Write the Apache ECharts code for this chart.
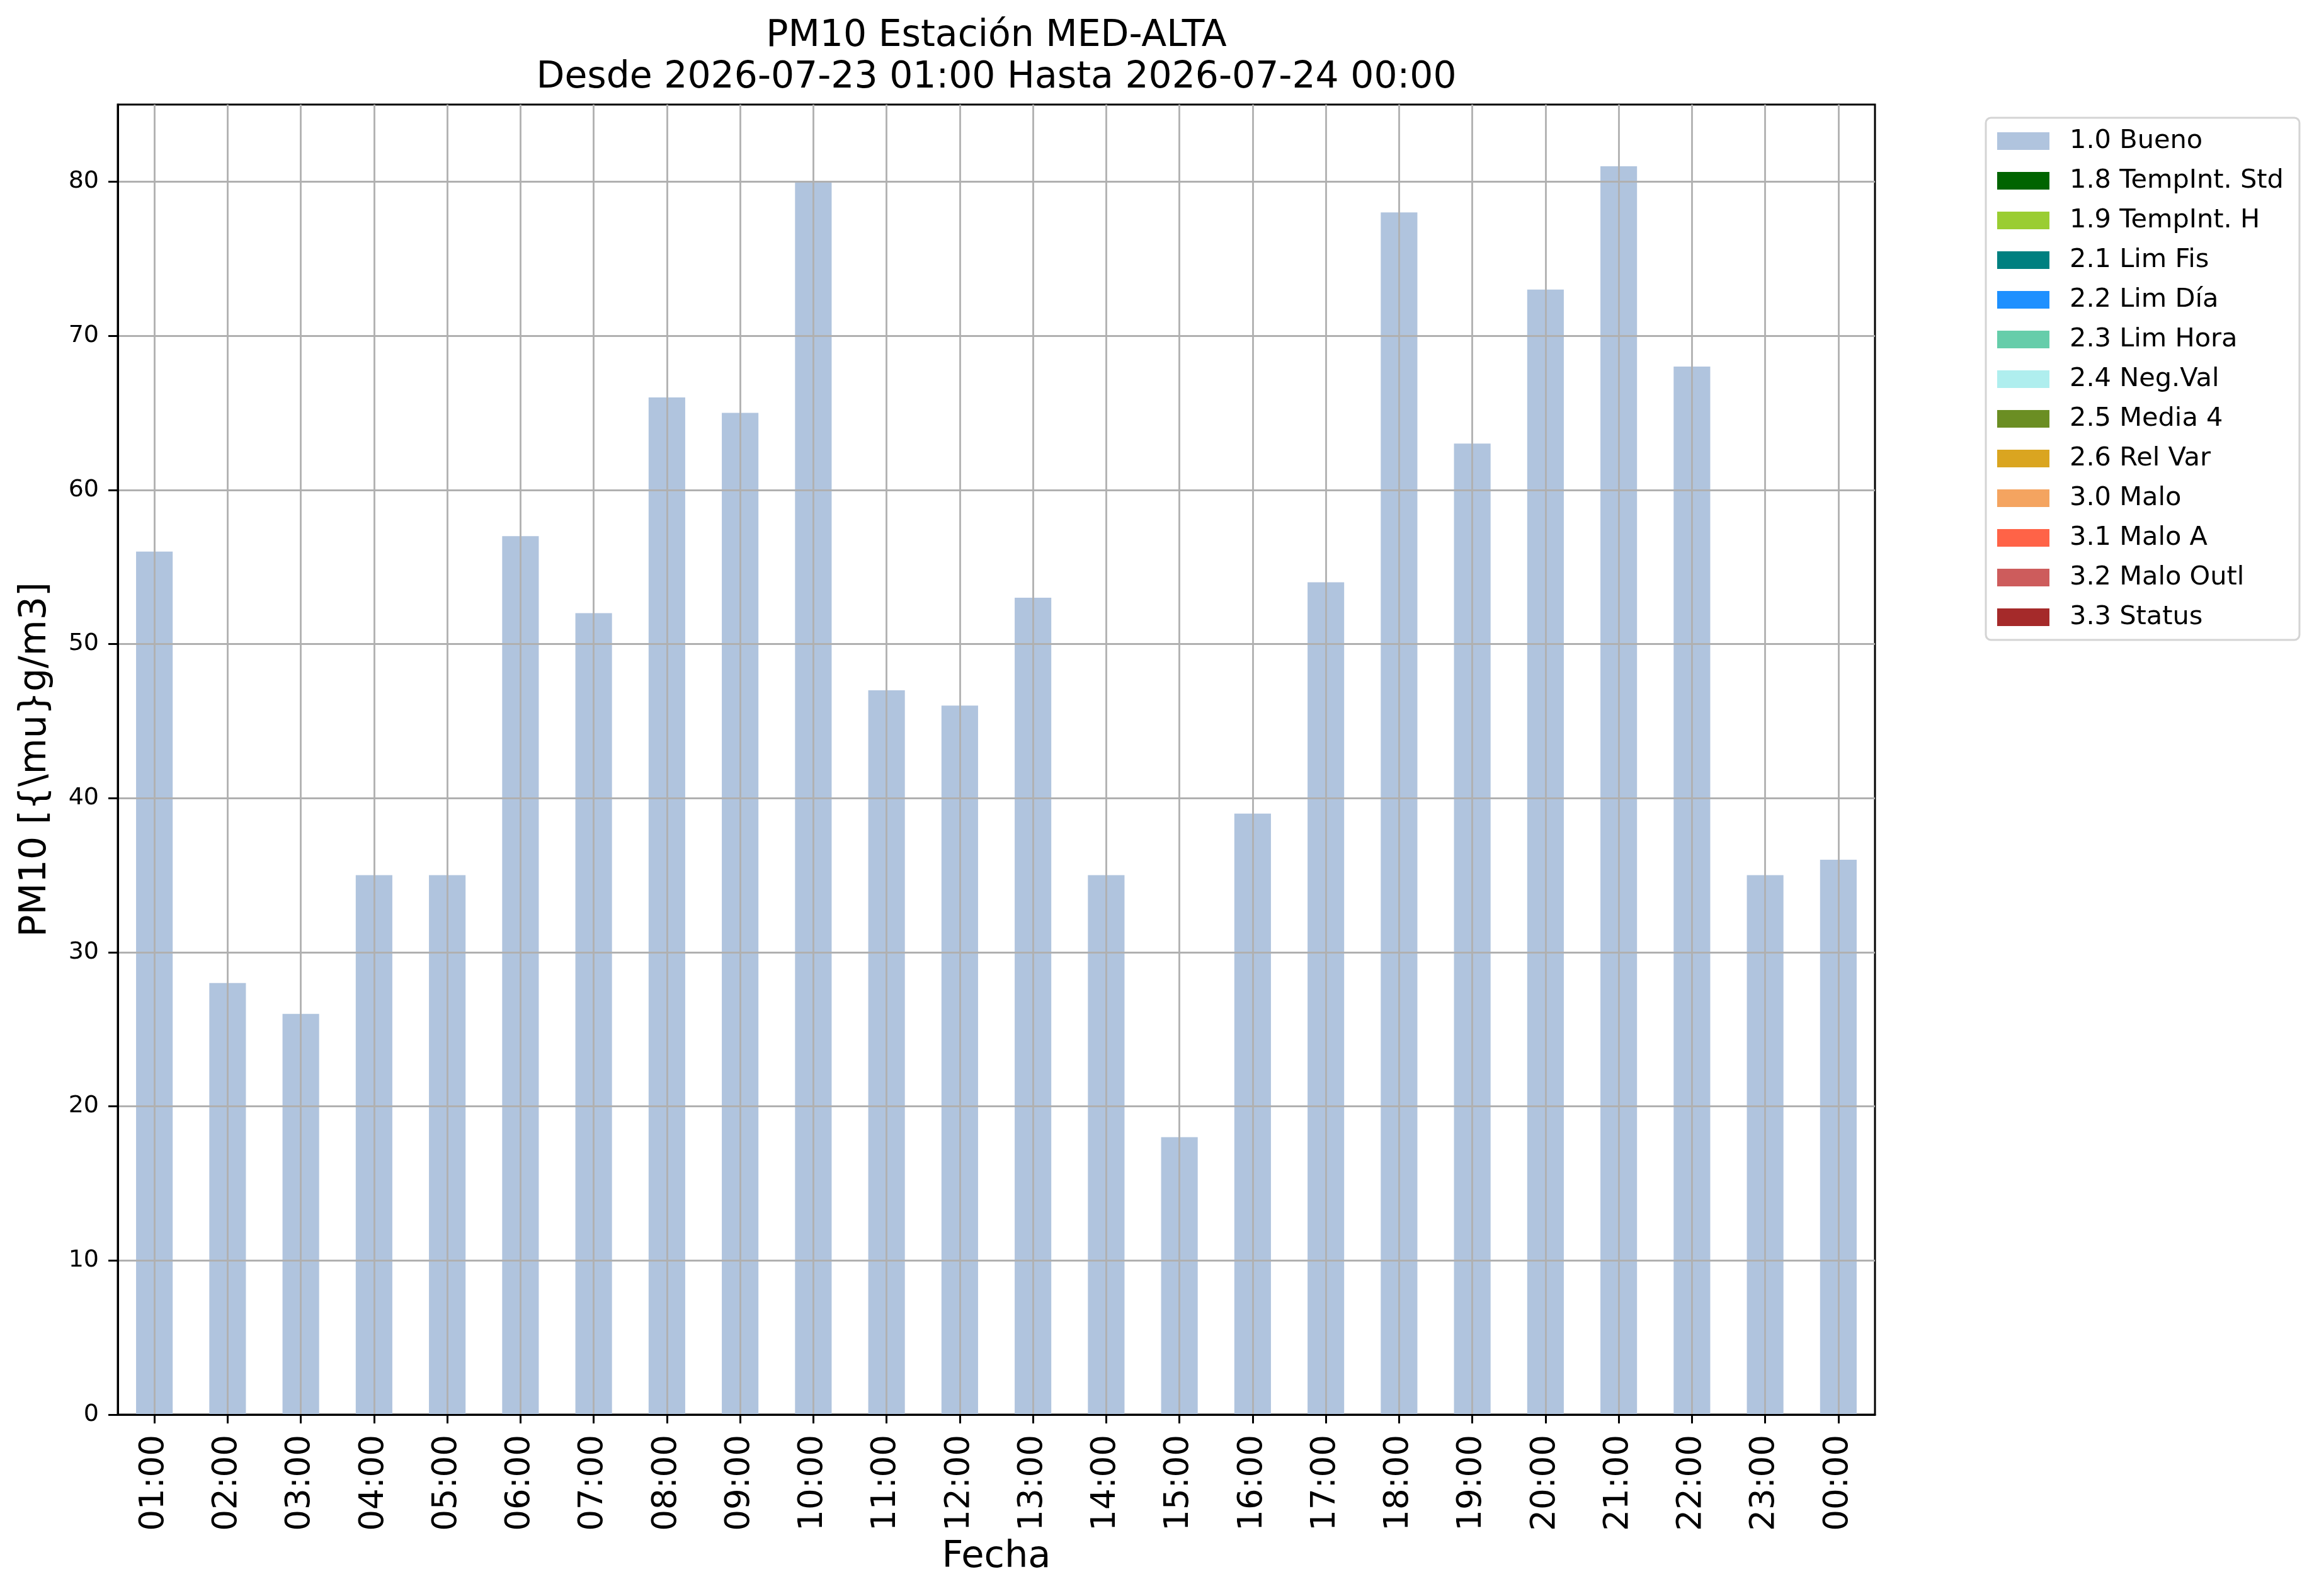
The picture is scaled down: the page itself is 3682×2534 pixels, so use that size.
<!DOCTYPE html>
<html>
<head>
<meta charset="utf-8">
<script src="https://cdn.jsdelivr.net/npm/echarts@6/dist/echarts.min.js"></script>
<style>
html, body { margin: 0; padding: 0; background: #ffffff; }
#chart { width: 3682px; height: 2534px; }
</style>
</head>
<body>
<div id="chart"></div>
<script>
var hours = ['01:00','02:00','03:00','04:00','05:00','06:00','07:00','08:00','09:00','10:00','11:00','12:00',
             '13:00','14:00','15:00','16:00','17:00','18:00','19:00','20:00','21:00','22:00','23:00','00:00'];
var pm10 = [56, 28, 26, 35, 35, 57, 52, 66, 65, 80, 47, 46, 53, 35, 18, 39, 54, 78, 63, 73, 81, 68, 35, 36];
var flags = ['1.0','1.0','1.0','1.0','1.0','1.0','1.0','1.0','1.0','1.0','1.0','1.0',
             '1.0','1.0','1.0','1.0','1.0','1.0','1.0','1.0','1.0','1.0','1.0','1.0'];
var qualityCodes = ['1.0','1.8','1.9','2.1','2.2','2.3','2.4','2.5','2.6','3.0','3.1','3.2','3.3'];
var qualityNames = ['1.0 Bueno','1.8 TempInt. Std','1.9 TempInt. H','2.1 Lim Fis','2.2 Lim Día','2.3 Lim Hora',
                    '2.4 Neg.Val','2.5 Media 4','2.6 Rel Var','3.0 Malo','3.1 Malo A','3.2 Malo Outl','3.3 Status'];
var qualityColors = ['#b0c4de','#006400','#9acd32','#008080','#1e90ff','#66cdaa','#afeeee','#6b8e23',
                     '#daa520','#f4a460','#ff6347','#cd5c5c','#a52a2a'];
var yTicks = [0, 10, 20, 30, 40, 50, 60, 70, 80];
var yMax = 85;
var titleText = 'PM10 Estación MED-ALTA\nDesde 2026-07-23 01:00 Hasta 2026-07-24 00:00';
var xName = 'Fecha';
var yName = 'PM10 [{\\mu}g/m3]';

var FONT = 'DejaVu Sans';
var chart = echarts.init(document.getElementById('chart'), null, { renderer: 'canvas' });

var series = qualityCodes.map(function (code, k) {
  return {
    name: qualityNames[k],
    type: 'bar',
    stack: 'q',
    barWidth: '50%',
    itemStyle: { color: qualityColors[k] },
    emphasis: { disabled: true },
    data: pm10.map(function (v, i) { return flags[i] === code ? v : null; })
  };
});

chart.setOption({
  backgroundColor: '#ffffff',
  animation: false,
  title: {
    text: titleText,
    left: 1582,
    top: 25,
    padding: 0,
    textAlign: 'center',
    textStyle: { fontFamily: FONT, fontSize: 58.4, fontWeight: 'normal', color: '#000', lineHeight: 66 }
  },
  legend: {
    orient: 'vertical',
    left: 3153,
    top: 187,
    padding: [16, 25, 15, 18],
    itemGap: 21,
    itemWidth: 83,
    itemHeight: 28,
    icon: 'rect',
    selectedMode: false,
    borderColor: '#d4d4d4',
    borderWidth: 3,
    borderRadius: 8,
    backgroundColor: '#ffffff',
    textStyle: { fontFamily: FONT, fontSize: 41.5, color: '#000', lineHeight: 41, padding: [0, 0, 0, 27] },
    data: qualityNames
  },
  grid: {
    left: 187, right: 705, top: 166, bottom: 288,
    show: true, borderColor: '#000', borderWidth: 3, backgroundColor: 'transparent'
  },
  xAxis: {
    type: 'category',
    data: hours,
    boundaryGap: true,
    z: 3,
    name: xName,
    nameLocation: 'middle',
    nameGap: 197,
    nameTextStyle: { fontFamily: FONT, fontSize: 59, color: '#000' },
    axisLine: { show: true, lineStyle: { color: '#000', width: 3 } },
    axisTick: { show: true, alignWithLabel: true, length: 14, lineStyle: { color: '#000', width: 3 } },
    axisLabel: { rotate: 90, margin: 32, interval: 0, fontFamily: FONT, fontSize: 53, color: '#000' },
    splitLine: { show: true, alignWithLabel: true, interval: 0, lineStyle: { color: '#b0b0b0', width: 2.8 } }
  },
  yAxis: {
    type: 'value',
    min: 0,
    max: yMax,
    interval: 10,
    z: 3,
    name: yName,
    nameLocation: 'middle',
    nameGap: 101,
    nameTextStyle: { fontFamily: FONT, fontSize: 58.5, color: '#000' },
    axisLine: { show: true, lineStyle: { color: '#000', width: 3 } },
    axisTick: { show: true, length: 15, customValues: yTicks, lineStyle: { color: '#000', width: 3 } },
    axisLabel: { margin: 30, customValues: yTicks, fontFamily: FONT, fontSize: 38, color: '#000' },
    splitLine: { show: true, lineStyle: { color: '#b0b0b0', width: 2.8 } }
  },
  series: series
});
</script>
</body>
</html>
